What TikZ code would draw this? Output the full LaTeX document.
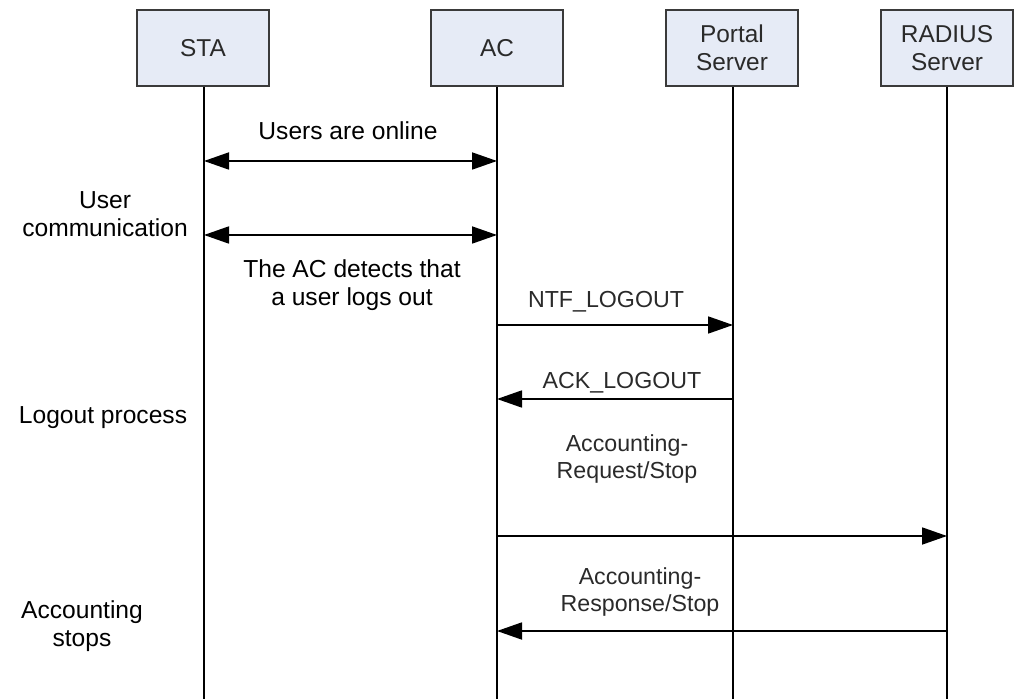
\documentclass[tikz,border=0pt]{standalone}
\usepackage{fontspec}
\setmainfont{Liberation Sans}
\usetikzlibrary{arrows.meta}
\definecolor{boxfill}{HTML}{E6EBF6}
\definecolor{boxline}{HTML}{3A3A3A}
\definecolor{lbl}{HTML}{2A2A2A}
\begin{document}
\begin{tikzpicture}[x=0.5pt,y=-0.5pt,
  entity/.style={draw=boxline,line width=1pt,fill=boxfill,minimum width=66pt,minimum height=38pt,inner sep=0pt,align=center,font=\fontsize{12.2}{14.2}\selectfont,text=lbl},
  life/.style={line width=0.8pt,black},
  msg/.style={line width=0.9pt,black,-{Triangle[length=12.5pt,width=8.5pt]}},
  dmsg/.style={line width=0.9pt,black,{Triangle[length=12.5pt,width=8.5pt]}-{Triangle[length=12.5pt,width=8.5pt]}},
  txt/.style={align=center,inner sep=0pt,font=\fontsize{12.3}{14.2}\selectfont,text=black},
  mtxt/.style={align=center,inner sep=0pt,font=\fontsize{11.6}{13.5}\selectfont,text=lbl}]
\useasboundingbox (0,0) rectangle (1020,699);
% entities
\node[entity] (sta) at (203,48) {STA};
\node[entity] (ac) at (497,48) {AC};
\node[entity] (portal) at (732,48) {Portal\\Server};
\node[entity] (radius) at (947,48) {RADIUS\\Server};
% lifeline ends
\coordinate (staEnd) at (204,699);
\coordinate (acEnd) at (497,699);
\coordinate (portalEnd) at (733,699);
\coordinate (radiusEnd) at (947,699);
\draw[life] (sta.south -| staEnd) -- (staEnd);
\draw[life] (ac.south -| acEnd) -- (acEnd);
\draw[life] (portal.south -| portalEnd) -- (portalEnd);
\draw[life] (radius.south -| radiusEnd) -- (radiusEnd);
% message points
\coordinate (s1) at (204,161); \coordinate (a1) at (497,161);
\coordinate (s2) at (204,235); \coordinate (a2) at (497,235);
\coordinate (a3) at (497,325); \coordinate (p3) at (733,325);
\coordinate (p4) at (733,399); \coordinate (a4) at (497,399);
\coordinate (a5) at (497,536); \coordinate (r5) at (947,536);
\coordinate (r6) at (947,631); \coordinate (a6) at (497,631);
% messages
\draw[dmsg] (s1) -- (a1);
\draw[dmsg] (s2) -- (a2);
\draw[msg] (a3) -- (p3);
\draw[msg] (p4) -- (a4);
\draw[msg] (a5) -- (r5);
\draw[msg] (r6) -- (a6);
% labels
\node[txt] (online) at (348,131) {Users are online};
\node[txt] (usercomm) at (105,214) {User\\communication};
\node[txt] (detect) at (352,285) {The AC detects that\\a user logs out};
\node[txt] (logout) at (103,418) {Logout process};
\node[txt] (accstop) at (82,626) {Accounting\\stops};
\node[mtxt] (ntf) at (606,302) {NTF\_LOGOUT};
\node[mtxt] (ack) at (622,383) {ACK\_LOGOUT};
\node[mtxt] (accreq) at (627,459) {Accounting-\\Request/Stop};
\node[mtxt] (accresp) at (640,592) {Accounting-\\Response/Stop};
\end{tikzpicture}
\end{document}
